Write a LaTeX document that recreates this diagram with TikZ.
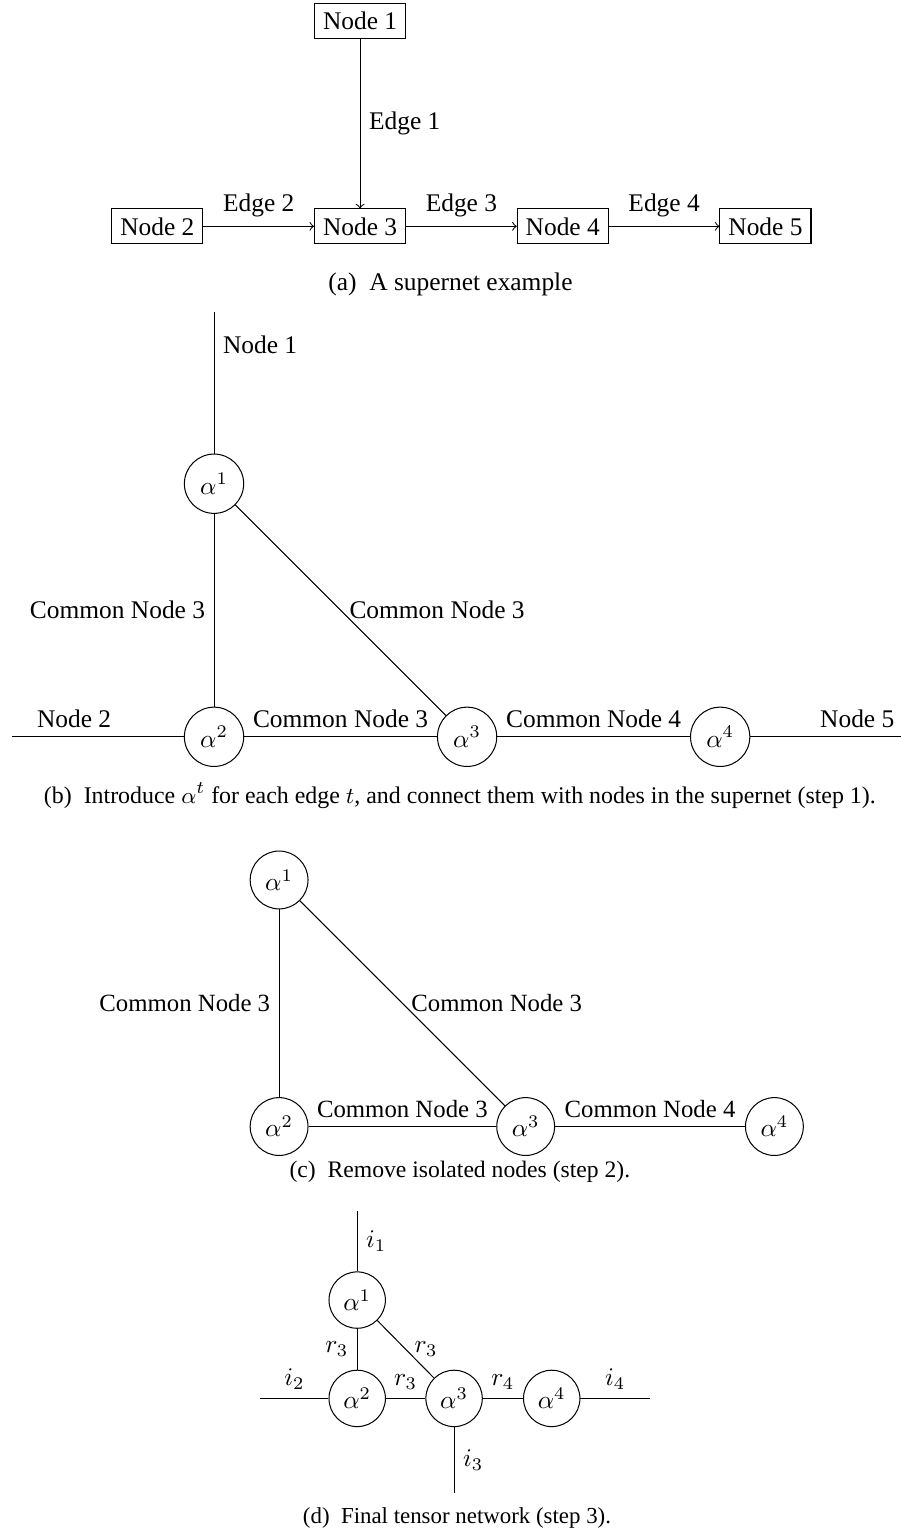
\documentclass[tikz,border=0pt]{standalone}
\usepackage[no-math]{fontspec}
\setmainfont{Liberation Serif}
\usetikzlibrary{positioning}

\begin{document}
\begin{tikzpicture}[
                box/.style={rectangle, draw},
                tensor/.style={circle, draw, minimum size=0.82cm, inner sep=0pt},
                smalltensor/.style={circle, draw, minimum size=0.78cm, inner sep=0pt},
                clabel/.style={font=\fontsize{9.75pt}{11pt}\selectfont},
            ]
            \useasboundingbox (0,0) rectangle (12.46,-21.16);

            % (a) supernet
            \node[box] (n3) at (4.98,-3.13) {Node 3};
            \node[box, above=2.34cm of n3] (n1) {Node 1};
            \node[box, left=1.53cm of n3] (n2) {Node 2};
            \node[box, right=1.53cm of n3] (n4) {Node 4};
            \node[box, right=1.53cm of n4] (n5) {Node 5};
            \draw[->] (n1) -- node[right] {Edge 1} (n3);
            \draw[->] (n2) -- node[above] {Edge 2} (n3);
            \draw[->] (n3) -- node[above] {Edge 3} (n4);
            \draw[->] (n4) -- node[above] {Edge 4} (n5);
            \node (capa) at (6.23,-3.93) {(a)\enspace A supernet example};

            % (b) step 1
            \node[tensor] (b2) at (2.96,-10.19) {$\alpha^2$};
            \node[tensor] (b1) at (2.96,-6.69) {$\alpha^1$};
            \node[tensor] (b3) at (6.46,-10.19) {$\alpha^3$};
            \node[tensor] (b4) at (9.96,-10.19) {$\alpha^4$};
            \coordinate (b1end) at (2.96,-4.32);
            \coordinate (b2end) at (0.17,-10.19);
            \coordinate (b4end) at (12.46,-10.19);
            \draw (b1end) -- node[right, pos=0.23] {Node 1} (b1);
            \draw (b2end) -- node[above, pos=0.36] {Node 2} (b2);
            \draw (b1) -- node[left] {Common Node 3} (b2);
            \draw (b1) -- node[right] {Common Node 3} (b3);
            \draw (b2) -- node[above] {Common Node 3} (b3);
            \draw (b3) -- node[above] {Common Node 4} (b4);
            \draw (b4) -- node[above, pos=0.71] {Node 5} (b4end);
            \node[font=\fontsize{9.4pt}{11pt}\selectfont] (capb) at (6.36,-11.0) {(b)\enspace Introduce $\alpha^t$ for each edge $t$, and connect them with nodes in the supernet (step 1).};

            % (c) step 2
            \node[tensor, minimum size=0.8cm] (c2) at (3.86,-15.58) {$\alpha^2$};
            \node[tensor, minimum size=0.8cm] (c1) at (3.86,-12.17) {$\alpha^1$};
            \node[tensor, minimum size=0.8cm] (c3) at (7.27,-15.58) {$\alpha^3$};
            \node[tensor, minimum size=0.8cm] (c4) at (10.71,-15.58) {$\alpha^4$};
            \draw (c1) -- node[left, clabel] {Common Node 3} (c2);
            \draw (c1) -- node[right, clabel] {Common Node 3} (c3);
            \draw (c2) -- node[above, clabel] {Common Node 3} (c3);
            \draw (c3) -- node[above, clabel] {Common Node 4} (c4);
            \node[font=\fontsize{9.3pt}{11pt}\selectfont] (capc) at (6.36,-16.2) {(c)\enspace Remove isolated nodes (step 2).};

            % (d) step 3
            \node[smalltensor] (d2) at (4.94,-19.34) {$\alpha^2$};
            \node[smalltensor] (d1) at (4.94,-17.98) {$\alpha^1$};
            \node[smalltensor] (d3) at (6.28,-19.34) {$\alpha^3$};
            \node[smalltensor] (d4) at (7.63,-19.34) {$\alpha^4$};
            \coordinate (d1end) at (4.94,-16.75);
            \coordinate (d2end) at (3.60,-19.34);
            \coordinate (d3end) at (6.28,-20.65);
            \coordinate (d4end) at (8.99,-19.34);
            \draw (d1end) -- node[right] {$i_1$} (d1);
            \draw (d2end) -- node[above] {$i_2$} (d2);
            \draw (d3) -- node[right] {$i_3$} (d3end);
            \draw (d4) -- node[above] {$i_4$} (d4end);
            \draw (d1) -- node[left] {$r_3$} (d2);
            \draw (d1) -- node[right] {$r_3$} (d3);
            \draw (d2) -- node[above] {$r_3$} (d3);
            \draw (d3) -- node[above] {$r_4$} (d4);
            \node[font=\fontsize{9pt}{11pt}\selectfont] (capd) at (6.32,-21.0) {(d)\enspace Final tensor network (step 3).};
\end{tikzpicture}
\end{document}
